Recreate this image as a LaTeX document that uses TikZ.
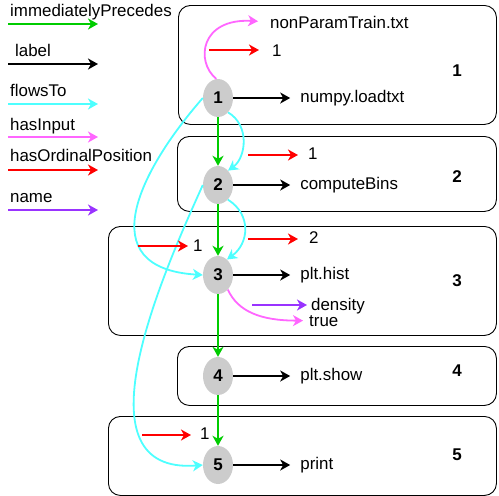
\documentclass[tikz,border=0pt]{standalone}
\usepackage{fontspec}
\setmainfont{Liberation Sans}
\usetikzlibrary{arrows.meta,positioning,shapes.geometric}
\definecolor{precgreen}{RGB}{0,204,0}
\definecolor{flowcyan}{RGB}{77,255,255}
\definecolor{inputpink}{RGB}{255,102,255}
\definecolor{ordred}{RGB}{255,0,0}
\definecolor{namepurple}{RGB}{153,51,255}
\definecolor{stmtgray}{RGB}{204,204,204}

\begin{document}
\begin{tikzpicture}[
    x=1pt, y=-1pt,
    font=\fontsize{16.9}{20}\selectfont,
    >={Stealth[length=10pt,width=11pt,inset=3pt]},
    box/.style={draw, line width=0.9pt, rounded corners=12pt, anchor=north west, inner sep=0pt},
    stmt/.style={ellipse, fill=stmtgray, minimum width=30pt, minimum height=38pt, inner sep=0pt, font=\fontsize{17}{20}\selectfont\bfseries},
    num/.style={anchor=base, inner sep=0pt, font=\fontsize{17}{20}\selectfont\bfseries},
    val/.style={anchor=base west, inner sep=0pt},
    txt/.style={inner sep=0pt},
    conn/.style={line width=1.8pt, ->},
    prec/.style={conn, draw=precgreen},
    lab/.style={conn, draw=black},
    flow/.style={conn, draw=flowcyan},
    input/.style={conn, draw=inputpink},
    ord/.style={conn, draw=ordred},
    nm/.style={conn, draw=namepurple}
]
\useasboundingbox (0,0) rectangle (499,496);

% Blocks
\node[box, minimum width=318pt, minimum height=119pt] (b1) at (178,5) {};
\node[box, minimum width=319pt, minimum height=75pt] (b2) at (177,136) {};
\node[box, minimum width=388pt, minimum height=109pt] (b3) at (108,226) {};
\node[box, minimum width=319pt, minimum height=59pt] (b4) at (177,346) {};
\node[box, minimum width=388pt, minimum height=79pt] (b5) at (108,416) {};
\node[num] (k1) at (457,76) {1};
\node[num] (k2) at (457,182) {2};
\node[num] (k3) at (457,286) {3};
\node[num] (k4) at (457,376) {4};
\node[num] (k5) at (457,460) {5};

% Statements
\node[stmt] (s1) at (218,98) {1};
\node[stmt] (s2) at (218,185) {2};
\node[stmt] (s3) at (218,275) {3};
\node[stmt] (s4) at (218,376) {4};
\node[stmt] (s5) at (218,465) {5};

% Values
\node[val] (n0) at (270,28) {nonParamTrain.txt};
\node[val] (o1) at (272,56) {1};
\node[txt, right=67pt of s1] (n1) {numpy.loadtxt};
\node[val] (o2) at (308,159) {1};
\node[txt, right=67pt of s2] (n2) {computeBins};
\node[val] (o3) at (309,243) {2};
\node[val] (o3b) at (193,251) {1};
\node[txt, right=67pt of s3] (n3) {plt.hist};
\node[val] (a3) at (311,310) {density};
\node[val] (v3) at (309,326) {true};
\node[txt, right=67pt of s4] (n4) {plt.show};
\node[val] (o5) at (200,439) {1};
\node[txt, right=67pt of s5] (n5) {print};

% Legend
\node[val] (kprec) at (10,16) {immediatelyPrecedes};
\node[val] (klab) at (15,56) {label};
\node[val] (kflow) at (10,96) {flowsTo};
\node[val] (kinput) at (10,130) {hasInput};
\node[val] (kord) at (10,161) {hasOrdinalPosition};
\node[val] (kname) at (10,202) {name};
\coordinate (kprecA) at (8,24);   \coordinate (kprecB) at (98,24);
\coordinate (klabA) at (8,64);    \coordinate (klabB) at (98,64);
\coordinate (kflowA) at (8,104);  \coordinate (kflowB) at (98,104);
\coordinate (kinputA) at (8,137); \coordinate (kinputB) at (98,137);
\coordinate (kordA) at (8,170);   \coordinate (kordB) at (98,170);
\coordinate (knameA) at (8,210);  \coordinate (knameB) at (98,210);

% Free ends
\coordinate (r1) at (209,50);
\coordinate (r2) at (248,155);
\coordinate (r3) at (248,239);
\coordinate (r3b) at (138,246);
\coordinate (r5) at (142,435);
\coordinate (p3) at (252,305);

% Connections
\draw[prec] (kprecA) -- (kprecB);
\draw[lab] (klabA) -- (klabB);
\draw[flow] (kflowA) -- (kflowB);
\draw[input] (kinputA) -- (kinputB);
\draw[ord] (kordA) -- (kordB);
\draw[nm] (knameA) -- (knameB);

\draw[prec] (s1) -- (s2);
\draw[prec] (s2) -- (s3);
\draw[prec] (s3) -- (s4);
\draw[prec] (s4) -- (s5);

\draw[lab, shorten >=10pt] (s1) -- (n1);
\draw[lab, shorten >=10pt] (s2) -- (n2);
\draw[lab, shorten >=10pt] (s3) -- (n3);
\draw[lab, shorten >=10pt] (s4) -- (n4);
\draw[lab, shorten >=10pt] (s5) -- (n5);

\draw[flow] (s1.-55) .. controls +(22,13) and +(18,-13) .. (s2.55);
\draw[flow] (s2.-56) .. controls +(24,15) and +(22,-16) .. (s3.60);
\draw[flow] (s1.west) .. controls +(-63,72) and +(-113,-7) .. (s3.west);
\draw[flow] (s2.west) .. controls +(-43,95) and +(-128,10) .. (s5.west);

\draw[input, shorten >=12pt] (s1.95) .. controls +(-21,-17) and +(-70,-4) .. (n0.west);
\draw[input, shorten >=6pt] (s3.-56) .. controls +(10,22) and +(-48,0) .. (v3.west);

\draw[ord, shorten >=13pt] (r1) -- (r1 -| o1.west);
\draw[ord, shorten >=10pt] (r2) -- (r2 -| o2.west);
\draw[ord, shorten >=11pt] (r3) -- (r3 -| o3.west);
\draw[ord, shorten >=5pt] (r3b) -- (r3b -| o3b.west);
\draw[ord, shorten >=9pt] (r5) -- (r5 -| o5.west);
\draw[nm, shorten >=4pt] (p3) -- (p3 -| a3.west);

\end{tikzpicture}
\end{document}
